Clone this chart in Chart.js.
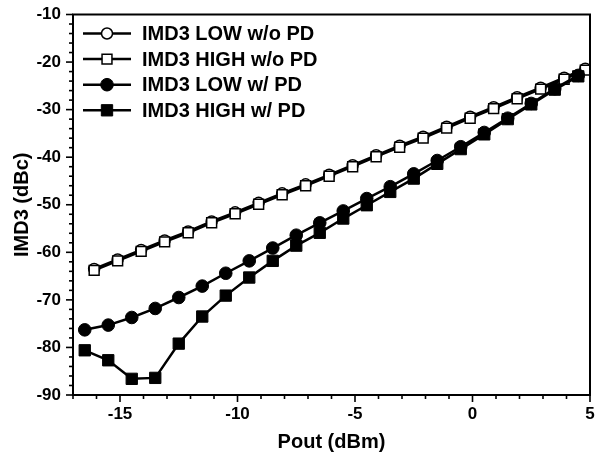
<!DOCTYPE html>
<html><head><meta charset="utf-8">
<script src="https://cdn.jsdelivr.net/npm/chart.js@4/dist/chart.umd.min.js"></script>
<style>html,body{margin:0;padding:0;background:#fff}canvas{display:block}</style>
</head><body>
<canvas id="c" width="601" height="459"></canvas>
<script>
const seriesNames = ['IMD3 LOW w/o PD', 'IMD3 HIGH w/o PD', 'IMD3 LOW w/ PD', 'IMD3 HIGH w/ PD'];
const xWithout = [-16.1,-15.1,-14.1,-13.1,-12.1,-11.1,-10.1,-9.1,-8.1,-7.1,-6.1,-5.1,-4.1,-3.1,-2.1,-1.1,-0.1,0.9,1.9,2.9,3.9,4.8];
const lowWithout = [-63.5,-61.5,-59.5,-57.5,-55.6,-53.5,-51.6,-49.6,-47.6,-45.7,-43.7,-41.7,-39.6,-37.6,-35.7,-33.6,-31.5,-29.5,-27.4,-25.4,-23.3,-21.4];
const highWithout = [-63.8,-61.8,-59.8,-57.8,-55.9,-53.8,-51.9,-49.9,-47.9,-46.0,-44.0,-42.0,-39.9,-37.9,-36.0,-33.9,-31.8,-29.8,-27.7,-25.7,-23.6,-21.7];
const xWith = [-16.5,-15.5,-14.5,-13.5,-12.5,-11.5,-10.5,-9.5,-8.5,-7.5,-6.5,-5.5,-4.5,-3.5,-2.5,-1.5,-0.5,0.5,1.5,2.5,3.5,4.5];
const lowWith = [-76.3,-75.3,-73.7,-71.8,-69.5,-67.1,-64.4,-61.8,-59.1,-56.4,-53.8,-51.3,-48.7,-46.2,-43.5,-40.7,-37.8,-34.8,-31.8,-28.7,-25.6,-22.8];
const highWith = [-80.6,-82.7,-86.6,-86.4,-79.2,-73.5,-69.1,-65.3,-61.8,-58.6,-55.9,-52.9,-50.1,-47.3,-44.5,-41.4,-38.3,-35.2,-32.0,-28.9,-25.8,-23.0];
const xTickLabels = [-15, -10, -5, 0, 5];
const yTickLabels = [-90, -80, -70, -60, -50, -40, -30, -20, -10];

function pts(xs, ys) { return xs.map((x, i) => ({x: x, y: ys[i]})); }

const tickFont = {family: '"Liberation Sans", Arial, sans-serif', size: 17, weight: 'bold'};
const titleFont = {family: '"Liberation Sans", Arial, sans-serif', size: 20, weight: 'bold'};

const frame = {
  id: 'frame',
  afterDraw(chart) {
    const ctx = chart.ctx, a = chart.chartArea, xs = chart.scales.x, ys = chart.scales.y;
    ctx.save();
    ctx.strokeStyle = '#000';
    ctx.lineWidth = 1.6;
    xs.ticks.forEach(t => {
      const px = xs.getPixelForValue(t.value);
      const major = xTickLabels.includes(t.value);
      ctx.beginPath(); ctx.moveTo(px, a.bottom); ctx.lineTo(px, a.bottom + (major ? 7 : 4)); ctx.stroke();
    });
    ys.ticks.forEach(t => {
      const py = ys.getPixelForValue(t.value);
      const major = yTickLabels.includes(t.value);
      ctx.beginPath(); ctx.moveTo(a.left, py); ctx.lineTo(a.left - (major ? 7 : 4), py); ctx.stroke();
    });
    ctx.lineWidth = 2;
    ctx.strokeRect(a.left, a.top, a.right - a.left, a.bottom - a.top);
    ctx.font = 'bold 20px "Liberation Sans", Arial, sans-serif';
    ctx.textBaseline = 'middle';
    ctx.textAlign = 'left';
    ctx.fillStyle = '#000';
    chart.data.datasets.forEach((ds, i) => {
      const cy = a.top + 19 + i * 25.6;
      const x0 = a.left + 10, x1 = a.left + 58, cx = (x0 + x1) / 2;
      ctx.lineWidth = 2.5; ctx.strokeStyle = '#000';
      ctx.beginPath(); ctx.moveTo(x0, cy); ctx.lineTo(x1, cy); ctx.stroke();
      ctx.lineWidth = ds.pointBorderWidth;
      ctx.fillStyle = ds.pointBackgroundColor;
      ctx.beginPath();
      if (ds.pointStyle === 'circle') {
        ctx.arc(cx, cy, ds.pointRadius, 0, Math.PI * 2);
      } else {
        const s = ds.pointRadius * Math.SQRT1_2;
        ctx.rect(cx - s, cy - s, 2 * s, 2 * s);
      }
      ctx.fill(); ctx.stroke();
      ctx.fillStyle = '#000';
      ctx.fillText(ds.label, a.left + 69, cy + 1);
    });
    ctx.restore();
  }
};

const hiddenGrid = {display: true, drawOnChartArea: false, drawTicks: true, color: 'rgba(0,0,0,0)'};

new Chart(document.getElementById('c'), {
  type: 'line',
  data: {
    datasets: [
      {label: seriesNames[0], data: pts(xWithout, lowWithout), pointStyle: 'circle', pointRadius: 5.5, pointBorderWidth: 1.5, pointBackgroundColor: '#fff', pointBorderColor: '#000', borderColor: '#000', borderWidth: 2.5, order: 4},
      {label: seriesNames[1], data: pts(xWithout, highWithout), pointStyle: 'rect', pointRadius: 7, pointBorderWidth: 1.5, pointBackgroundColor: '#fff', pointBorderColor: '#000', borderColor: '#000', borderWidth: 2.5, order: 3},
      {label: seriesNames[2], data: pts(xWith, lowWith), pointStyle: 'circle', pointRadius: 6.3, pointBorderWidth: 1, pointBackgroundColor: '#000', pointBorderColor: '#000', borderColor: '#000', borderWidth: 2.5, order: 1},
      {label: seriesNames[3], data: pts(xWith, highWith), pointStyle: 'rect', pointRadius: 8, pointBorderWidth: 1, pointBackgroundColor: '#000', pointBorderColor: '#000', borderColor: '#000', borderWidth: 2.5, order: 2}
    ]
  },
  options: {
    responsive: false,
    animation: false,
    layout: {padding: {top: 14.5, right: 11, left: 0, bottom: 0}},
    plugins: {legend: {display: false}, tooltip: {enabled: false}},
    elements: {line: {tension: 0}},
    scales: {
      x: {
        type: 'linear', min: -17, max: 5,
        afterFit: s => { s.height = 64; },
        grid: Object.assign({tickLength: 9}, hiddenGrid),
        border: {display: false},
        ticks: {stepSize: 1, autoSkip: false, maxRotation: 0, padding: 0, color: '#000', font: tickFont,
          callback: v => xTickLabels.includes(v) ? String(v) : ''},
        title: {display: true, text: 'Pout (dBm)', color: '#000', font: titleFont, padding: {top: 4, bottom: 5}}
      },
      y: {
        type: 'linear', min: -90, max: -10,
        afterFit: s => { s.width = 73; },
        grid: Object.assign({tickLength: 12}, hiddenGrid),
        border: {display: false},
        ticks: {stepSize: 2, autoSkip: false, padding: 0, color: '#000', font: tickFont,
          callback: v => yTickLabels.includes(v) ? String(v) : ''},
        title: {display: true, text: 'IMD3 (dBc)', color: '#000', font: titleFont, padding: {top: 10, bottom: 0}}
      }
    }
  },
  plugins: [frame]
});
</script>
</body></html>
